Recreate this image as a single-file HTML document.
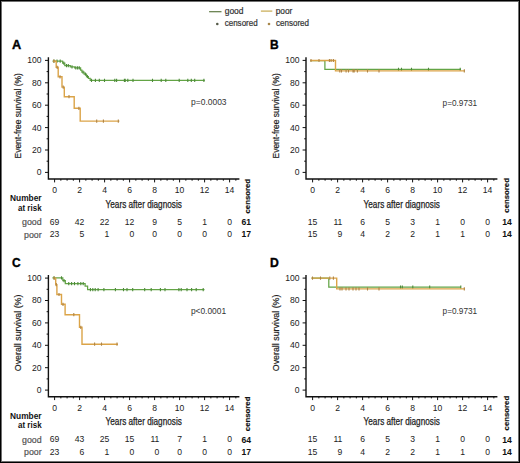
<!DOCTYPE html>
<html><head><meta charset="utf-8"><style>
html,body{margin:0;padding:0;background:#fff;overflow:hidden;width:520px;height:463px;}
svg{display:block;font-family:"Liberation Sans", sans-serif;}
</style></head><body>
<svg width="520" height="463" viewBox="0 0 520 463">
<rect x="0" y="0" width="520" height="463" fill="#fff"/>
<path d="M209.1 11.7 H221.5" stroke="#5f7a45" stroke-width="1.2"/>
<path d="M260.9 11.1 H272.3" stroke="#c7a94f" stroke-width="1.2"/>
<circle cx="217.3" cy="24" r="1.3" fill="#555a48"/>
<circle cx="269" cy="24" r="1.3" fill="#a8874a"/>
<text x="224.70" y="14.10" font-size="8.2" fill="#333" text-anchor="start" textLength="18.8" lengthAdjust="spacingAndGlyphs" stroke="#333" stroke-width="0.2">good</text>
<text x="275.70" y="14.10" font-size="8.2" fill="#333" text-anchor="start" textLength="16.7" lengthAdjust="spacingAndGlyphs" stroke="#333" stroke-width="0.2">poor</text>
<text x="224.70" y="26.20" font-size="8.2" fill="#333" text-anchor="start" textLength="33.0" lengthAdjust="spacingAndGlyphs" stroke="#333" stroke-width="0.2">censored</text>
<text x="276.00" y="26.20" font-size="8.2" fill="#333" text-anchor="start" textLength="33.0" lengthAdjust="spacingAndGlyphs" stroke="#333" stroke-width="0.2">censored</text>
<text x="12.10" y="48.90" font-size="12" fill="#000" text-anchor="start" font-weight="bold" textLength="9.2" lengthAdjust="spacingAndGlyphs" stroke="#000" stroke-width="0.35">A</text>
<path d="M48.40 57.20 V179.70 M47.70 179.00 H239.40" stroke="#111" stroke-width="1.4" fill="none"/>
<path d="M45.00 172.40 H48.40 M46.60 161.20 H48.40 M45.00 150.00 H48.40 M46.60 138.80 H48.40 M45.00 127.60 H48.40 M46.60 116.40 H48.40 M45.00 105.20 H48.40 M46.60 94.00 H48.40 M45.00 82.80 H48.40 M46.60 71.60 H48.40 M45.00 60.40 H48.40 M54.60 179.00 V182.40 M60.85 179.00 V180.70 M67.10 179.00 V180.70 M73.35 179.00 V180.70 M79.60 179.00 V182.40 M85.85 179.00 V180.70 M92.10 179.00 V180.70 M98.35 179.00 V180.70 M104.60 179.00 V182.40 M110.85 179.00 V180.70 M117.10 179.00 V180.70 M123.35 179.00 V180.70 M129.60 179.00 V182.40 M135.85 179.00 V180.70 M142.10 179.00 V180.70 M148.35 179.00 V180.70 M154.60 179.00 V182.40 M160.85 179.00 V180.70 M167.10 179.00 V180.70 M173.35 179.00 V180.70 M179.60 179.00 V182.40 M185.85 179.00 V180.70 M192.10 179.00 V180.70 M198.35 179.00 V180.70 M204.60 179.00 V182.40 M210.85 179.00 V180.70 M217.10 179.00 V180.70 M223.35 179.00 V180.70 M229.60 179.00 V182.40 M235.85 179.00 V180.70 " stroke="#111" stroke-width="1" fill="none"/>
<text x="41.60" y="175.30" font-size="8.6" fill="#222" text-anchor="end">0</text>
<text x="41.60" y="152.90" font-size="8.6" fill="#222" text-anchor="end">20</text>
<text x="41.60" y="130.50" font-size="8.6" fill="#222" text-anchor="end">40</text>
<text x="41.60" y="108.10" font-size="8.6" fill="#222" text-anchor="end">60</text>
<text x="41.60" y="85.70" font-size="8.6" fill="#222" text-anchor="end">80</text>
<text x="41.60" y="63.30" font-size="8.6" fill="#222" text-anchor="end">100</text>
<text x="54.60" y="192.90" font-size="8.6" fill="#222" text-anchor="middle">0</text>
<text x="79.60" y="192.90" font-size="8.6" fill="#222" text-anchor="middle">2</text>
<text x="104.60" y="192.90" font-size="8.6" fill="#222" text-anchor="middle">4</text>
<text x="129.60" y="192.90" font-size="8.6" fill="#222" text-anchor="middle">6</text>
<text x="154.60" y="192.90" font-size="8.6" fill="#222" text-anchor="middle">8</text>
<text x="179.60" y="192.90" font-size="8.6" fill="#222" text-anchor="middle">10</text>
<text x="204.60" y="192.90" font-size="8.6" fill="#222" text-anchor="middle">12</text>
<text x="229.60" y="192.90" font-size="8.6" fill="#222" text-anchor="middle">14</text>
<text x="105.60" y="207.60" font-size="10.2" fill="#222" text-anchor="start" textLength="76.2" lengthAdjust="spacingAndGlyphs" stroke="#222" stroke-width="0.25">Years after diagnosis</text>
<text transform="translate(20.80 158.40) rotate(-90)" font-size="9.5" fill="#222" stroke="#222" stroke-width="0.2" textLength="85.2" lengthAdjust="spacingAndGlyphs">Event-free survival (%)</text>
<text x="191.00" y="105.00" font-size="8.2" fill="#333" text-anchor="start" textLength="35.6" lengthAdjust="spacingAndGlyphs">p=0.0003</text>
<text transform="translate(249.80 213.50) rotate(-90)" font-size="7" font-weight="bold" fill="#111" stroke="#111" stroke-width="0.15" textLength="34.6" lengthAdjust="spacingAndGlyphs">censored</text>
<text x="41.60" y="201.00" font-size="8.2" fill="#111" text-anchor="end" font-weight="bold" textLength="31.6" lengthAdjust="spacingAndGlyphs">Number</text>
<text x="41.60" y="210.70" font-size="8.2" fill="#111" text-anchor="end" font-weight="bold" textLength="23.6" lengthAdjust="spacingAndGlyphs">at risk</text>
<text x="41.60" y="224.80" font-size="8.2" fill="#555" text-anchor="end" textLength="19.6" lengthAdjust="spacingAndGlyphs" stroke="#555" stroke-width="0.2">good</text>
<text x="41.60" y="237.50" font-size="8.2" fill="#555" text-anchor="end" textLength="17.6" lengthAdjust="spacingAndGlyphs" stroke="#555" stroke-width="0.2">poor</text>
<text x="59.38" y="224.60" font-size="8.6" fill="#222" text-anchor="end">69</text>
<text x="59.38" y="237.20" font-size="8.6" fill="#222" text-anchor="end">23</text>
<text x="84.38" y="224.60" font-size="8.6" fill="#222" text-anchor="end">42</text>
<text x="84.38" y="237.20" font-size="8.6" fill="#222" text-anchor="end">5</text>
<text x="109.38" y="224.60" font-size="8.6" fill="#222" text-anchor="end">22</text>
<text x="109.38" y="237.20" font-size="8.6" fill="#222" text-anchor="end">1</text>
<text x="134.38" y="224.60" font-size="8.6" fill="#222" text-anchor="end">12</text>
<text x="134.38" y="237.20" font-size="8.6" fill="#222" text-anchor="end">0</text>
<text x="156.99" y="224.60" font-size="8.6" fill="#222" text-anchor="end">9</text>
<text x="156.99" y="237.20" font-size="8.6" fill="#222" text-anchor="end">0</text>
<text x="181.99" y="224.60" font-size="8.6" fill="#222" text-anchor="end">5</text>
<text x="181.99" y="237.20" font-size="8.6" fill="#222" text-anchor="end">0</text>
<text x="206.99" y="224.60" font-size="8.6" fill="#222" text-anchor="end">1</text>
<text x="206.99" y="237.20" font-size="8.6" fill="#222" text-anchor="end">0</text>
<text x="231.99" y="224.60" font-size="8.6" fill="#222" text-anchor="end">0</text>
<text x="231.99" y="237.20" font-size="8.6" fill="#222" text-anchor="end">0</text>
<text x="246.30" y="224.90" font-size="8.6" fill="#111" text-anchor="middle" font-weight="bold">61</text>
<text x="246.30" y="237.40" font-size="8.6" fill="#111" text-anchor="middle" font-weight="bold">17</text>
<path d="M52.5 61.2 H62.6 V63.2 H64.8 V65.6 H70.3 V66.8 H74.6 V67.9 H80.6 V70.1 H81.9 V72.1 H84.1 V74.2 H86.5 V76.5 H88.4 V78.4 H90.2 V80.4 H204.8" stroke="#63a445" stroke-width="1.25" fill="none" stroke-linejoin="miter" stroke-linecap="butt"/>
<path d="M54.00 59.60 V62.80 M57.00 59.60 V62.80 M60.20 59.60 V62.80 M63.80 61.60 V64.80 M66.50 64.00 V67.20 M68.30 64.00 V67.20 M72.00 65.20 V68.40 M75.80 66.30 V69.50 M77.60 66.30 V69.50 M79.30 66.30 V69.50 M83.00 70.50 V73.70 M85.40 72.60 V75.80 M87.40 74.90 V78.10 M91.50 78.80 V82.00 M95.40 78.80 V82.00 M99.30 78.80 V82.00 M104.50 78.80 V82.00 M114.80 78.80 V82.00 M116.60 78.80 V82.00 M124.40 78.80 V82.00 M125.20 78.80 V82.00 M127.80 78.80 V82.00 M133.00 78.80 V82.00 M152.50 78.80 V82.00 M161.20 78.80 V82.00 M165.80 78.80 V82.00 M179.20 78.80 V82.00 M187.80 78.80 V82.00 M191.30 78.80 V82.00 M194.70 78.80 V82.00 M203.90 78.80 V82.00 " stroke="#4d8a3a" stroke-width="1.1" fill="none"/>
<path d="M53 61.2 H56.2 V67.3 H58.2 V76.8 H62 V87.1 H64.3 V96.7 H74.2 V108.3 H80.2 V121.1 H119.4" stroke="#dba448" stroke-width="1.4" fill="none" stroke-linejoin="miter" stroke-linecap="butt"/>
<path d="M53.80 59.60 V62.80 M57.20 65.70 V68.90 M60.00 75.20 V78.40 M63.20 85.50 V88.70 M69.00 95.10 V98.30 M78.90 106.70 V109.90 M96.70 119.50 V122.70 M103.40 119.50 V122.70 M118.30 119.50 V122.70 " stroke="#b08445" stroke-width="1.1" fill="none"/>
<text x="270.10" y="48.90" font-size="12" fill="#000" text-anchor="start" font-weight="bold" stroke="#000" stroke-width="0.35">B</text>
<path d="M306.00 57.20 V179.70 M305.30 179.00 H497.40" stroke="#111" stroke-width="1.4" fill="none"/>
<path d="M302.60 172.40 H306.00 M304.20 161.20 H306.00 M302.60 150.00 H306.00 M304.20 138.80 H306.00 M302.60 127.60 H306.00 M304.20 116.40 H306.00 M302.60 105.20 H306.00 M304.20 94.00 H306.00 M302.60 82.80 H306.00 M304.20 71.60 H306.00 M302.60 60.40 H306.00 M312.60 179.00 V182.40 M318.85 179.00 V180.70 M325.10 179.00 V180.70 M331.35 179.00 V180.70 M337.60 179.00 V182.40 M343.85 179.00 V180.70 M350.10 179.00 V180.70 M356.35 179.00 V180.70 M362.60 179.00 V182.40 M368.85 179.00 V180.70 M375.10 179.00 V180.70 M381.35 179.00 V180.70 M387.60 179.00 V182.40 M393.85 179.00 V180.70 M400.10 179.00 V180.70 M406.35 179.00 V180.70 M412.60 179.00 V182.40 M418.85 179.00 V180.70 M425.10 179.00 V180.70 M431.35 179.00 V180.70 M437.60 179.00 V182.40 M443.85 179.00 V180.70 M450.10 179.00 V180.70 M456.35 179.00 V180.70 M462.60 179.00 V182.40 M468.85 179.00 V180.70 M475.10 179.00 V180.70 M481.35 179.00 V180.70 M487.60 179.00 V182.40 M493.85 179.00 V180.70 " stroke="#111" stroke-width="1" fill="none"/>
<text x="299.60" y="175.30" font-size="8.6" fill="#222" text-anchor="end">0</text>
<text x="299.60" y="152.90" font-size="8.6" fill="#222" text-anchor="end">20</text>
<text x="299.60" y="130.50" font-size="8.6" fill="#222" text-anchor="end">40</text>
<text x="299.60" y="108.10" font-size="8.6" fill="#222" text-anchor="end">60</text>
<text x="299.60" y="85.70" font-size="8.6" fill="#222" text-anchor="end">80</text>
<text x="299.60" y="63.30" font-size="8.6" fill="#222" text-anchor="end">100</text>
<text x="312.60" y="192.90" font-size="8.6" fill="#222" text-anchor="middle">0</text>
<text x="337.60" y="192.90" font-size="8.6" fill="#222" text-anchor="middle">2</text>
<text x="362.60" y="192.90" font-size="8.6" fill="#222" text-anchor="middle">4</text>
<text x="387.60" y="192.90" font-size="8.6" fill="#222" text-anchor="middle">6</text>
<text x="412.60" y="192.90" font-size="8.6" fill="#222" text-anchor="middle">8</text>
<text x="437.60" y="192.90" font-size="8.6" fill="#222" text-anchor="middle">10</text>
<text x="462.60" y="192.90" font-size="8.6" fill="#222" text-anchor="middle">12</text>
<text x="487.60" y="192.90" font-size="8.6" fill="#222" text-anchor="middle">14</text>
<text x="363.60" y="207.60" font-size="10.2" fill="#222" text-anchor="start" textLength="76.2" lengthAdjust="spacingAndGlyphs" stroke="#222" stroke-width="0.25">Years after diagnosis</text>
<text transform="translate(278.80 158.40) rotate(-90)" font-size="9.5" fill="#222" stroke="#222" stroke-width="0.2" textLength="85.2" lengthAdjust="spacingAndGlyphs">Event-free survival (%)</text>
<text x="442.60" y="105.60" font-size="8.2" fill="#333" text-anchor="start" textLength="34.6" lengthAdjust="spacingAndGlyphs">p=0.9731</text>
<text transform="translate(509.40 212.70) rotate(-90)" font-size="7" font-weight="bold" fill="#111" stroke="#111" stroke-width="0.15" textLength="34.6" lengthAdjust="spacingAndGlyphs">censored</text>
<text x="317.38" y="224.60" font-size="8.6" fill="#222" text-anchor="end">15</text>
<text x="317.38" y="237.20" font-size="8.6" fill="#222" text-anchor="end">15</text>
<text x="342.38" y="224.60" font-size="8.6" fill="#222" text-anchor="end">11</text>
<text x="342.38" y="237.20" font-size="8.6" fill="#222" text-anchor="end">9</text>
<text x="364.99" y="224.60" font-size="8.6" fill="#222" text-anchor="end">6</text>
<text x="364.99" y="237.20" font-size="8.6" fill="#222" text-anchor="end">4</text>
<text x="389.99" y="224.60" font-size="8.6" fill="#222" text-anchor="end">5</text>
<text x="389.99" y="237.20" font-size="8.6" fill="#222" text-anchor="end">2</text>
<text x="414.99" y="224.60" font-size="8.6" fill="#222" text-anchor="end">3</text>
<text x="414.99" y="237.20" font-size="8.6" fill="#222" text-anchor="end">2</text>
<text x="439.99" y="224.60" font-size="8.6" fill="#222" text-anchor="end">1</text>
<text x="439.99" y="237.20" font-size="8.6" fill="#222" text-anchor="end">1</text>
<text x="464.99" y="224.60" font-size="8.6" fill="#222" text-anchor="end">0</text>
<text x="464.99" y="237.20" font-size="8.6" fill="#222" text-anchor="end">1</text>
<text x="489.99" y="224.60" font-size="8.6" fill="#222" text-anchor="end">0</text>
<text x="489.99" y="237.20" font-size="8.6" fill="#222" text-anchor="end">0</text>
<text x="507.00" y="224.90" font-size="8.6" fill="#111" text-anchor="middle" font-weight="bold">14</text>
<text x="507.00" y="237.40" font-size="8.6" fill="#111" text-anchor="middle" font-weight="bold">14</text>
<path d="M310.3 60.5 H324.9 V69.4 H461" stroke="#63a445" stroke-width="1.25" fill="none" stroke-linejoin="miter" stroke-linecap="butt"/>
<path d="M398.50 67.80 V71.00 M401.50 67.80 V71.00 M411.50 67.80 V71.00 M428.50 67.80 V71.00 M460.20 67.80 V71.00 " stroke="#4d8a3a" stroke-width="1.1" fill="none"/>
<path d="M310.3 60.5 H335.5 V70.9 H464.8" stroke="#dba448" stroke-width="1.4" fill="none" stroke-linejoin="miter" stroke-linecap="butt"/>
<path d="M311.00 58.90 V62.10 M319.00 58.90 V62.10 M329.40 58.90 V62.10 M331.10 58.90 V62.10 M333.40 58.90 V62.10 M339.80 69.30 V72.50 M341.50 69.30 V72.50 M346.10 69.30 V72.50 M348.50 69.30 V72.50 M353.00 69.30 V72.50 M354.20 69.30 V72.50 M357.40 69.30 V72.50 M367.50 69.30 V72.50 M379.00 69.30 V72.50 M464.30 69.30 V72.50 " stroke="#b08445" stroke-width="1.1" fill="none"/>
<text x="12.10" y="266.60" font-size="12" fill="#000" text-anchor="start" font-weight="bold" stroke="#000" stroke-width="0.35">C</text>
<path d="M48.40 274.90 V397.40 M47.70 396.70 H239.40" stroke="#111" stroke-width="1.4" fill="none"/>
<path d="M45.00 390.10 H48.40 M46.60 378.90 H48.40 M45.00 367.70 H48.40 M46.60 356.50 H48.40 M45.00 345.30 H48.40 M46.60 334.10 H48.40 M45.00 322.90 H48.40 M46.60 311.70 H48.40 M45.00 300.50 H48.40 M46.60 289.30 H48.40 M45.00 278.10 H48.40 M54.60 396.70 V400.10 M60.85 396.70 V398.40 M67.10 396.70 V398.40 M73.35 396.70 V398.40 M79.60 396.70 V400.10 M85.85 396.70 V398.40 M92.10 396.70 V398.40 M98.35 396.70 V398.40 M104.60 396.70 V400.10 M110.85 396.70 V398.40 M117.10 396.70 V398.40 M123.35 396.70 V398.40 M129.60 396.70 V400.10 M135.85 396.70 V398.40 M142.10 396.70 V398.40 M148.35 396.70 V398.40 M154.60 396.70 V400.10 M160.85 396.70 V398.40 M167.10 396.70 V398.40 M173.35 396.70 V398.40 M179.60 396.70 V400.10 M185.85 396.70 V398.40 M192.10 396.70 V398.40 M198.35 396.70 V398.40 M204.60 396.70 V400.10 M210.85 396.70 V398.40 M217.10 396.70 V398.40 M223.35 396.70 V398.40 M229.60 396.70 V400.10 M235.85 396.70 V398.40 " stroke="#111" stroke-width="1" fill="none"/>
<text x="41.60" y="393.00" font-size="8.6" fill="#222" text-anchor="end">0</text>
<text x="41.60" y="370.60" font-size="8.6" fill="#222" text-anchor="end">20</text>
<text x="41.60" y="348.20" font-size="8.6" fill="#222" text-anchor="end">40</text>
<text x="41.60" y="325.80" font-size="8.6" fill="#222" text-anchor="end">60</text>
<text x="41.60" y="303.40" font-size="8.6" fill="#222" text-anchor="end">80</text>
<text x="41.60" y="281.00" font-size="8.6" fill="#222" text-anchor="end">100</text>
<text x="54.60" y="410.60" font-size="8.6" fill="#222" text-anchor="middle">0</text>
<text x="79.60" y="410.60" font-size="8.6" fill="#222" text-anchor="middle">2</text>
<text x="104.60" y="410.60" font-size="8.6" fill="#222" text-anchor="middle">4</text>
<text x="129.60" y="410.60" font-size="8.6" fill="#222" text-anchor="middle">6</text>
<text x="154.60" y="410.60" font-size="8.6" fill="#222" text-anchor="middle">8</text>
<text x="179.60" y="410.60" font-size="8.6" fill="#222" text-anchor="middle">10</text>
<text x="204.60" y="410.60" font-size="8.6" fill="#222" text-anchor="middle">12</text>
<text x="229.60" y="410.60" font-size="8.6" fill="#222" text-anchor="middle">14</text>
<text x="105.60" y="425.30" font-size="10.2" fill="#222" text-anchor="start" textLength="76.2" lengthAdjust="spacingAndGlyphs" stroke="#222" stroke-width="0.25">Years after diagnosis</text>
<text transform="translate(20.80 371.20) rotate(-90)" font-size="9.5" fill="#222" stroke="#222" stroke-width="0.2" textLength="76.6" lengthAdjust="spacingAndGlyphs">Overall survival (%)</text>
<text x="190.90" y="313.90" font-size="8.2" fill="#333" text-anchor="start" textLength="35.2" lengthAdjust="spacingAndGlyphs">p&lt;0.0001</text>
<text transform="translate(249.80 431.20) rotate(-90)" font-size="7" font-weight="bold" fill="#111" stroke="#111" stroke-width="0.15" textLength="34.6" lengthAdjust="spacingAndGlyphs">censored</text>
<text x="41.60" y="418.70" font-size="8.2" fill="#111" text-anchor="end" font-weight="bold" textLength="31.6" lengthAdjust="spacingAndGlyphs">Number</text>
<text x="41.60" y="428.40" font-size="8.2" fill="#111" text-anchor="end" font-weight="bold" textLength="23.6" lengthAdjust="spacingAndGlyphs">at risk</text>
<text x="41.60" y="442.50" font-size="8.2" fill="#555" text-anchor="end" textLength="19.6" lengthAdjust="spacingAndGlyphs" stroke="#555" stroke-width="0.2">good</text>
<text x="41.60" y="455.20" font-size="8.2" fill="#555" text-anchor="end" textLength="17.6" lengthAdjust="spacingAndGlyphs" stroke="#555" stroke-width="0.2">poor</text>
<text x="59.38" y="442.30" font-size="8.6" fill="#222" text-anchor="end">69</text>
<text x="59.38" y="454.90" font-size="8.6" fill="#222" text-anchor="end">23</text>
<text x="84.38" y="442.30" font-size="8.6" fill="#222" text-anchor="end">43</text>
<text x="84.38" y="454.90" font-size="8.6" fill="#222" text-anchor="end">6</text>
<text x="109.38" y="442.30" font-size="8.6" fill="#222" text-anchor="end">25</text>
<text x="109.38" y="454.90" font-size="8.6" fill="#222" text-anchor="end">1</text>
<text x="134.38" y="442.30" font-size="8.6" fill="#222" text-anchor="end">15</text>
<text x="134.38" y="454.90" font-size="8.6" fill="#222" text-anchor="end">0</text>
<text x="159.38" y="442.30" font-size="8.6" fill="#222" text-anchor="end">11</text>
<text x="159.38" y="454.90" font-size="8.6" fill="#222" text-anchor="end">0</text>
<text x="181.99" y="442.30" font-size="8.6" fill="#222" text-anchor="end">7</text>
<text x="181.99" y="454.90" font-size="8.6" fill="#222" text-anchor="end">0</text>
<text x="206.99" y="442.30" font-size="8.6" fill="#222" text-anchor="end">1</text>
<text x="206.99" y="454.90" font-size="8.6" fill="#222" text-anchor="end">0</text>
<text x="231.99" y="442.30" font-size="8.6" fill="#222" text-anchor="end">0</text>
<text x="231.99" y="454.90" font-size="8.6" fill="#222" text-anchor="end">0</text>
<text x="246.30" y="442.60" font-size="8.6" fill="#111" text-anchor="middle" font-weight="bold">64</text>
<text x="246.30" y="455.10" font-size="8.6" fill="#111" text-anchor="middle" font-weight="bold">17</text>
<path d="M52.4 277.9 H62.8 V280.6 H65.3 V283.6 H85.1 V286 H87.6 V289.6 H204.5" stroke="#63a445" stroke-width="1.25" fill="none" stroke-linejoin="miter" stroke-linecap="butt"/>
<path d="M54.00 276.30 V279.50 M61.50 276.30 V279.50 M64.00 279.00 V282.20 M68.75 282.00 V285.20 M71.60 282.00 V285.20 M74.50 282.00 V285.20 M77.90 282.00 V285.20 M80.80 282.00 V285.20 M83.20 282.00 V285.20 M90.40 288.00 V291.20 M92.80 288.00 V291.20 M95.20 288.00 V291.20 M98.10 288.00 V291.20 M103.90 288.00 V291.20 M115.40 288.00 V291.20 M123.50 288.00 V291.20 M127.00 288.00 V291.20 M132.70 288.00 V291.20 M144.70 288.00 V291.20 M151.20 288.00 V291.20 M160.40 288.00 V291.20 M165.00 288.00 V291.20 M178.90 288.00 V291.20 M181.20 288.00 V291.20 M187.00 288.00 V291.20 M191.60 288.00 V291.20 M196.20 288.00 V291.20 M203.20 288.00 V291.20 " stroke="#4d8a3a" stroke-width="1.1" fill="none"/>
<path d="M53.2 278.1 H55.7 V284.7 H56.9 V294.5 H61.5 V304.3 H65.1 V314.7 H79.5 V327.3 H82 V344.2 H118" stroke="#dba448" stroke-width="1.4" fill="none" stroke-linejoin="miter" stroke-linecap="butt"/>
<path d="M54.20 276.50 V279.70 M56.30 283.10 V286.30 M59.00 292.90 V296.10 M63.00 302.70 V305.90 M73.80 313.10 V316.30 M80.80 325.70 V328.90 M94.60 342.60 V345.80 M101.50 342.60 V345.80 M117.00 342.60 V345.80 " stroke="#b08445" stroke-width="1.1" fill="none"/>
<text x="270.10" y="266.60" font-size="12" fill="#000" text-anchor="start" font-weight="bold" textLength="8.8" lengthAdjust="spacingAndGlyphs" stroke="#000" stroke-width="0.35">D</text>
<path d="M306.00 274.90 V397.40 M305.30 396.70 H497.40" stroke="#111" stroke-width="1.4" fill="none"/>
<path d="M302.60 390.10 H306.00 M304.20 378.90 H306.00 M302.60 367.70 H306.00 M304.20 356.50 H306.00 M302.60 345.30 H306.00 M304.20 334.10 H306.00 M302.60 322.90 H306.00 M304.20 311.70 H306.00 M302.60 300.50 H306.00 M304.20 289.30 H306.00 M302.60 278.10 H306.00 M312.60 396.70 V400.10 M318.85 396.70 V398.40 M325.10 396.70 V398.40 M331.35 396.70 V398.40 M337.60 396.70 V400.10 M343.85 396.70 V398.40 M350.10 396.70 V398.40 M356.35 396.70 V398.40 M362.60 396.70 V400.10 M368.85 396.70 V398.40 M375.10 396.70 V398.40 M381.35 396.70 V398.40 M387.60 396.70 V400.10 M393.85 396.70 V398.40 M400.10 396.70 V398.40 M406.35 396.70 V398.40 M412.60 396.70 V400.10 M418.85 396.70 V398.40 M425.10 396.70 V398.40 M431.35 396.70 V398.40 M437.60 396.70 V400.10 M443.85 396.70 V398.40 M450.10 396.70 V398.40 M456.35 396.70 V398.40 M462.60 396.70 V400.10 M468.85 396.70 V398.40 M475.10 396.70 V398.40 M481.35 396.70 V398.40 M487.60 396.70 V400.10 M493.85 396.70 V398.40 " stroke="#111" stroke-width="1" fill="none"/>
<text x="299.60" y="393.00" font-size="8.6" fill="#222" text-anchor="end">0</text>
<text x="299.60" y="370.60" font-size="8.6" fill="#222" text-anchor="end">20</text>
<text x="299.60" y="348.20" font-size="8.6" fill="#222" text-anchor="end">40</text>
<text x="299.60" y="325.80" font-size="8.6" fill="#222" text-anchor="end">60</text>
<text x="299.60" y="303.40" font-size="8.6" fill="#222" text-anchor="end">80</text>
<text x="299.60" y="281.00" font-size="8.6" fill="#222" text-anchor="end">100</text>
<text x="312.60" y="410.60" font-size="8.6" fill="#222" text-anchor="middle">0</text>
<text x="337.60" y="410.60" font-size="8.6" fill="#222" text-anchor="middle">2</text>
<text x="362.60" y="410.60" font-size="8.6" fill="#222" text-anchor="middle">4</text>
<text x="387.60" y="410.60" font-size="8.6" fill="#222" text-anchor="middle">6</text>
<text x="412.60" y="410.60" font-size="8.6" fill="#222" text-anchor="middle">8</text>
<text x="437.60" y="410.60" font-size="8.6" fill="#222" text-anchor="middle">10</text>
<text x="462.60" y="410.60" font-size="8.6" fill="#222" text-anchor="middle">12</text>
<text x="487.60" y="410.60" font-size="8.6" fill="#222" text-anchor="middle">14</text>
<text x="363.60" y="425.30" font-size="10.2" fill="#222" text-anchor="start" textLength="76.2" lengthAdjust="spacingAndGlyphs" stroke="#222" stroke-width="0.25">Years after diagnosis</text>
<text transform="translate(278.80 371.20) rotate(-90)" font-size="9.5" fill="#222" stroke="#222" stroke-width="0.2" textLength="76.6" lengthAdjust="spacingAndGlyphs">Overall survival (%)</text>
<text x="442.60" y="314.10" font-size="8.2" fill="#333" text-anchor="start" textLength="34.6" lengthAdjust="spacingAndGlyphs">p=0.9731</text>
<text transform="translate(509.40 430.40) rotate(-90)" font-size="7" font-weight="bold" fill="#111" stroke="#111" stroke-width="0.15" textLength="34.6" lengthAdjust="spacingAndGlyphs">censored</text>
<text x="317.38" y="442.30" font-size="8.6" fill="#222" text-anchor="end">15</text>
<text x="317.38" y="454.90" font-size="8.6" fill="#222" text-anchor="end">15</text>
<text x="342.38" y="442.30" font-size="8.6" fill="#222" text-anchor="end">11</text>
<text x="342.38" y="454.90" font-size="8.6" fill="#222" text-anchor="end">9</text>
<text x="364.99" y="442.30" font-size="8.6" fill="#222" text-anchor="end">6</text>
<text x="364.99" y="454.90" font-size="8.6" fill="#222" text-anchor="end">4</text>
<text x="389.99" y="442.30" font-size="8.6" fill="#222" text-anchor="end">5</text>
<text x="389.99" y="454.90" font-size="8.6" fill="#222" text-anchor="end">2</text>
<text x="414.99" y="442.30" font-size="8.6" fill="#222" text-anchor="end">3</text>
<text x="414.99" y="454.90" font-size="8.6" fill="#222" text-anchor="end">2</text>
<text x="439.99" y="442.30" font-size="8.6" fill="#222" text-anchor="end">1</text>
<text x="439.99" y="454.90" font-size="8.6" fill="#222" text-anchor="end">1</text>
<text x="464.99" y="442.30" font-size="8.6" fill="#222" text-anchor="end">0</text>
<text x="464.99" y="454.90" font-size="8.6" fill="#222" text-anchor="end">1</text>
<text x="489.99" y="442.30" font-size="8.6" fill="#222" text-anchor="end">0</text>
<text x="489.99" y="454.90" font-size="8.6" fill="#222" text-anchor="end">0</text>
<text x="507.00" y="442.60" font-size="8.6" fill="#111" text-anchor="middle" font-weight="bold">14</text>
<text x="507.00" y="455.10" font-size="8.6" fill="#111" text-anchor="middle" font-weight="bold">14</text>
<path d="M311.5 278.1 H328.8 V287.2 H461" stroke="#63a445" stroke-width="1.25" fill="none" stroke-linejoin="miter" stroke-linecap="butt"/>
<path d="M400.50 285.60 V288.80 M402.30 285.60 V288.80 M412.80 285.60 V288.80 M429.70 285.60 V288.80 M460.80 285.60 V288.80 " stroke="#4d8a3a" stroke-width="1.1" fill="none"/>
<path d="M311.5 278.1 H336.7 V288.9 H464.8" stroke="#dba448" stroke-width="1.4" fill="none" stroke-linejoin="miter" stroke-linecap="butt"/>
<path d="M312.50 276.50 V279.70 M320.50 276.50 V279.70 M329.80 276.50 V279.70 M333.40 276.50 V279.70 M340.00 287.30 V290.50 M342.00 287.30 V290.50 M346.00 287.30 V290.50 M349.00 287.30 V290.50 M353.00 287.30 V290.50 M356.00 287.30 V290.50 M359.00 287.30 V290.50 M367.50 287.30 V290.50 M379.00 287.30 V290.50 M464.30 287.30 V290.50 " stroke="#b08445" stroke-width="1.1" fill="none"/>
<rect x="0.5" y="0.5" width="519" height="462" fill="none" stroke="#000" stroke-width="1"/>
<rect x="1.5" y="1.5" width="517" height="460" fill="none" stroke="#707070" stroke-width="1"/>
</svg>
</body></html>
